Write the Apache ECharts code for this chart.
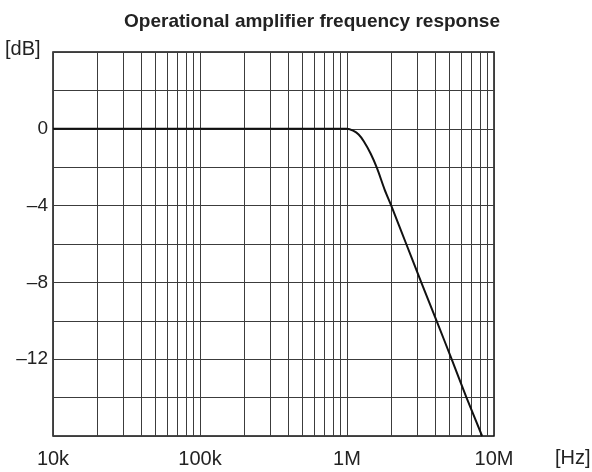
<!DOCTYPE html>
<html>
<head>
<meta charset="utf-8">
<script src="https://cdn.jsdelivr.net/npm/echarts@6/dist/echarts.min.js"></script>
<style>
  html, body { margin: 0; padding: 0; background: #fff; }
  #chart { width: 592px; height: 472px; }
</style>
</head>
<body>
<div id="chart"></div>
<script>
// gain curve: [frequency Hz, gain dB]
const response = [
  [1e4, 0], [1e5, 0], [1e6, 0],
  [1.1e6, -0.1], [1.2e6, -0.3], [1.3e6, -0.65], [1.45e6, -1.3],
  [1.6e6, -2.05], [1.8e6, -3.15], [2e6, -4], [2.53e6, -6],
  [3.2e6, -8], [4.07e6, -10], [5.15e6, -12], [6.5e6, -14], [8.3e6, -16]
]

// minor vertical grid lines (2..9 in every decade)
const minorFreqs = [
  2e4, 3e4, 4e4, 5e4, 6e4, 7e4, 8e4, 9e4,
  2e5, 3e5, 4e5, 5e5, 6e5, 7e5, 8e5, 9e5,
  2e6, 3e6, 4e6, 5e6, 6e6, 7e6, 8e6, 9e6
]

const xTickLabels = { 1e4: '10k', 1e5: '100k', 1e6: '1M', 1e7: '10M' }
const yTickLabels = [0, -4, -8, -12]

const GRID = '#3c3c3c'
const TEXT = '#222'
const FONT = 'Liberation Sans, Arial, sans-serif'

const chart = echarts.init(document.getElementById('chart'))

chart.setOption({
  animation: false,
  title: {
    text: 'Operational amplifier frequency response',
    left: 307,
    textAlign: 'center',
    top: 7,
    textStyle: { fontFamily: FONT, fontSize: 19, fontWeight: 'bold', color: TEXT }
  },
  grid: {
    left: 53,
    right: 98,
    top: 52,
    bottom: 36,
    show: true,
    borderColor: '#111',
    borderWidth: 1.5
  },
  xAxis: {
    type: 'log',
    logBase: 10,
    min: 1e4,
    max: 1e7,
    axisLine: { show: false },
    axisTick: { show: false },
    axisLabel: {
      margin: 13,
      fontFamily: FONT,
      fontSize: 20,
      color: TEXT,
      formatter: v => xTickLabels[Math.round(v)] || ''
    },
    splitLine: { show: true, lineStyle: { color: GRID, width: 1 } }
  },
  yAxis: {
    type: 'value',
    min: -16,
    max: 4,
    interval: 2,
    axisLine: { show: false },
    axisTick: { show: false },
    axisLabel: {
      margin: 5,
      fontFamily: FONT,
      fontSize: 19,
      color: TEXT,
      formatter: v => (yTickLabels.includes(v) ? (v < 0 ? '\u2013' + Math.abs(v) : String(v)) : '')
    },
    splitLine: { show: true, lineStyle: { color: GRID, width: 1 } }
  },
  graphic: [
    {
      type: 'text',
      x: 5,
      y: 49,
      style: { text: '[dB]', font: '20px ' + FONT, fill: TEXT, align: 'left', verticalAlign: 'middle' }
    },
    {
      type: 'text',
      x: 555,
      y: 458,
      style: { text: '[Hz]', font: '20px ' + FONT, fill: TEXT, align: 'left', verticalAlign: 'middle' }
    }
  ],
  series: [
    {
      type: 'line',
      data: response,
      smooth: 0.3,
      showSymbol: false,
      lineStyle: { color: '#111', width: 2 },
      z: 5,
      markLine: {
        silent: true,
        symbol: 'none',
        label: { show: false },
        lineStyle: { color: GRID, width: 1, type: 'solid' },
        data: minorFreqs.map(f => ({ xAxis: f })),
        z: 1
      }
    }
  ]
})
</script>
</body>
</html>
